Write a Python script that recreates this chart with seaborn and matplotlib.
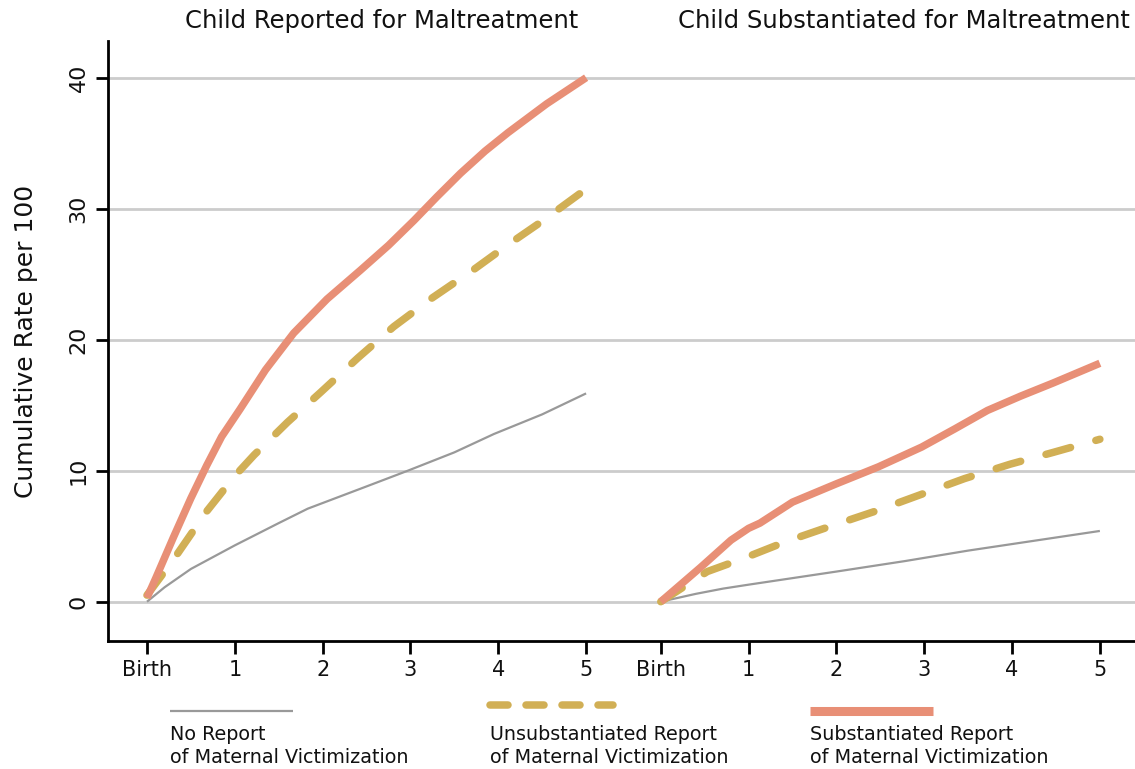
import numpy as np
import pandas as pd
import matplotlib
matplotlib.use("Agg")
import matplotlib.pyplot as plt
from matplotlib.lines import Line2D
import seaborn as sns

sns.set_style("white")
plt.rcParams['font.family'] = ['DejaVu Sans']
plt.rcParams['text.color'] = '#111111'
plt.rcParams['axes.labelcolor'] = '#111111'
plt.rcParams['xtick.color'] = '#111111'
plt.rcParams['ytick.color'] = '#111111'

# panels and series
panels = ["Child Reported for Maltreatment", "Child Substantiated for Maltreatment"]
groups = ["No Report\nof Maternal Victimization",
          "Unsubstantiated Report\nof Maternal Victimization",
          "Substantiated Report\nof Maternal Victimization"]
tick_labels = ["Birth", "1", "2", "3", "4", "5"]

# values (age in years, cumulative rate per 100)
rep_none_x = [0, 0.2, 0.5, 1, 1.5, 1.83, 2.5, 2.97, 3.5, 3.95, 4.5, 5]
rep_none_y = [0, 1.1, 2.5, 4.3, 6.0, 7.1, 8.8, 10.0, 11.4, 12.8, 14.3, 15.9]
rep_unsub_x = [0, 0.3, 0.68, 1.0, 1.22, 1.6, 1.98, 2.4, 2.81, 3.25, 3.73, 4.1, 4.49, 5]
rep_unsub_y = [0.5, 3.2, 6.9, 9.6, 11.2, 13.7, 16.0, 18.6, 21.0, 23.2, 25.4, 27.2, 29.0, 31.5]
rep_sub_x = [0, 0.1, 0.3, 0.5, 0.68, 0.85, 1.06, 1.35, 1.67, 2.05, 2.43, 2.75, 3.04, 3.3, 3.57, 3.85, 4.11, 4.55, 5]
rep_sub_y = [0.3, 1.8, 4.9, 7.9, 10.4, 12.6, 14.7, 17.7, 20.5, 23.1, 25.3, 27.2, 29.1, 30.9, 32.7, 34.4, 35.8, 38.0, 40.0]

sub_none_x = [0, 0.4, 0.71, 1, 1.5, 2, 2.78, 3.5, 4, 4.5, 5]
sub_none_y = [0, 0.6, 1.0, 1.3, 1.8, 2.3, 3.1, 3.9, 4.4, 4.9, 5.4]
sub_unsub_x = [0, 0.53, 0.94, 1.43, 1.95, 2.44, 2.97, 3.46, 3.98, 4.47, 5]
sub_unsub_y = [0, 2.3, 3.3, 4.6, 5.8, 6.9, 8.2, 9.4, 10.5, 11.4, 12.4]
sub_sub_x = [0, 0.45, 0.8, 1.0, 1.13, 1.5, 2.0, 2.48, 2.97, 3.35, 3.72, 4.1, 4.47, 5]
sub_sub_y = [0, 2.6, 4.7, 5.6, 6.0, 7.6, 9.0, 10.3, 11.8, 13.2, 14.6, 15.7, 16.7, 18.2]

offset = 5.85  # where the second panel starts on the shared x axis

rows = []
series = [
    (0, 0, rep_none_x, rep_none_y), (0, 1, rep_unsub_x, rep_unsub_y), (0, 2, rep_sub_x, rep_sub_y),
    (1, 0, sub_none_x, sub_none_y), (1, 1, sub_unsub_x, sub_unsub_y), (1, 2, sub_sub_x, sub_sub_y),
]
for p, g, xs, ys in series:
    for x, y in zip(xs, ys):
        rows.append({"x": x + p * offset, "rate": y, "group": groups[g], "panel": panels[p]})
df = pd.DataFrame(rows)

colors = {groups[0]: "#999999", groups[1]: "#D1AF55", groups[2]: "#E88F76"}
widths = {groups[0]: 1.6, groups[1]: 5.4, groups[2]: 5.4}
dashes = {groups[0]: "", groups[1]: (3.4, 3.5), groups[2]: ""}

fig = plt.figure(figsize=(11.35, 7.69), dpi=100)
ax = fig.add_axes([108 / 1135, 128 / 769, 1 - 108 / 1135, (641 - 41) / 769])

sns.lineplot(data=df, x="x", y="rate", hue="group", style="group", size="group",
             units="panel", estimator=None, sort=False,
             palette=colors, sizes=widths, dashes=dashes, legend=False, ax=ax)
for ln in ax.lines:
    ln.set_dash_capstyle("round")
    ln.set_solid_capstyle("butt")
    ln.set_solid_joinstyle("round")

ax.set_xlim(-0.444, 11.25)
ax.set_ylim(-3.0, 42.8)
ax.set_yticks([0, 10, 20, 30, 40])
ax.set_yticklabels(["0", "10", "20", "30", "40"], rotation=90, va="center", fontsize=16)
ax.set_xticks(list(range(6)) + [offset + i for i in range(6)])
ax.set_xticklabels(tick_labels + tick_labels, fontsize=15)
ax.tick_params(axis="both", direction="out", length=9, width=2, color="black",
               bottom=True, left=True)
ax.tick_params(axis="x", pad=5)
ax.tick_params(axis="y", pad=5)

ax.yaxis.grid(True, color="#cccccc", lw=2)
ax.xaxis.grid(False)
ax.set_axisbelow(True)
for s in ["top", "right"]:
    ax.spines[s].set_visible(False)
for s in ["left", "bottom"]:
    ax.spines[s].set_color("black")
    ax.spines[s].set_linewidth(2)

ax.set_xlabel("")
ax.set_ylabel("Cumulative Rate per 100", fontsize=18, labelpad=22)

fig.text(382 / 1135, 1 - 21 / 769, panels[0], ha="center", va="center", fontsize=17.5)
fig.text(1130 / 1135, 1 - 21 / 769, panels[1], ha="right", va="center", fontsize=17.5)

# legend below the axes: handle above text
leg_x = [170, 490, 810]
leg_y = [711, 705, 711]
for i, g in enumerate(groups):
    x0 = leg_x[i] / 1135
    x1 = (leg_x[i] + 123) / 1135
    yy = 1 - leg_y[i] / 769
    ln = Line2D([x0, x1], [yy, yy], transform=fig.transFigure, color=colors[g],
                lw=widths[g] if i != 2 else 6.5, solid_capstyle="butt", dash_capstyle="round")
    if i == 1:
        ln.set_dashes((2.4, 2.4))
    fig.add_artist(ln)
    fig.text(x0, 1 - 746 / 769, g, ha="left", va="center", fontsize=13.8, linespacing=1.25)

fig.savefig("out.png", dpi=100)
